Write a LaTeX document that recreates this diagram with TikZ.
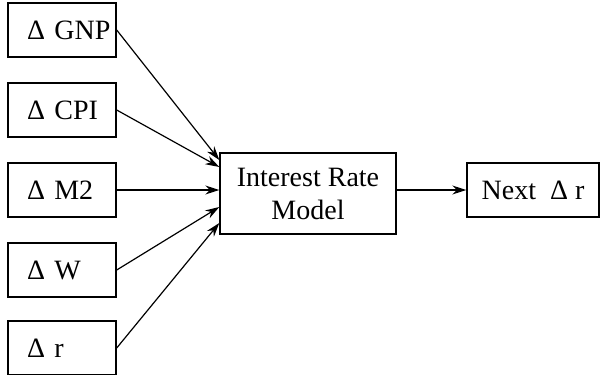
\documentclass[tikz,border=0pt]{standalone}
\usepackage{fontspec}
\setmainfont{Liberation Serif}
\usetikzlibrary{arrows.meta,calc}
\begin{document}
\begin{tikzpicture}[x=0.5pt,y=-0.5pt,
  inbox/.style={draw,line width=0.7pt,minimum height=27pt,text width=54pt,inner xsep=0pt,align=left,font=\fontsize{14}{16.5}\selectfont},
  mbox/.style={draw,line width=0.7pt,align=center,font=\fontsize{14}{16.5}\selectfont},
  arr/.style={-{Stealth[length=7pt,width=4.5pt]},line width=0.6pt}]
\useasboundingbox (0,0) rectangle (600,375);
\node[inbox] (gnp) at (62,30) {\hspace*{9.5pt}Δ GNP};
\node[inbox] (cpi) at (62,110) {\hspace*{9.5pt}Δ CPI};
\node[inbox] (m2)  at (62,190) {\hspace*{9.5pt}Δ M2};
\node[inbox] (w)   at (62,270) {\hspace*{9.5pt}Δ W};
\node[inbox] (r)   at (62,348) {\hspace*{9.5pt}Δ r};
\node[mbox,minimum width=88pt,minimum height=40.5pt] (model) at (308,193.5) {Interest Rate\\Model};
\node[mbox,minimum width=66pt,minimum height=27pt] (next) at (533,190) {Next\ \ Δ r};
\draw[arr] (gnp.east) -- ($(model.west)+(0,-33.5)$);
\draw[arr] (cpi.east) -- ($(model.west)+(0,-26.5)$);
\draw[arr] (m2.east) -- ($(model.west)+(0,-3.5)$);
\draw[arr] (w.east) -- ($(model.west)+(0,13.5)$);
\draw[arr] (r.east) -- ($(model.west)+(0,29.5)$);
\draw[arr] ($(model.east)+(0,-3.5)$) -- (next.west);
\end{tikzpicture}
\end{document}
